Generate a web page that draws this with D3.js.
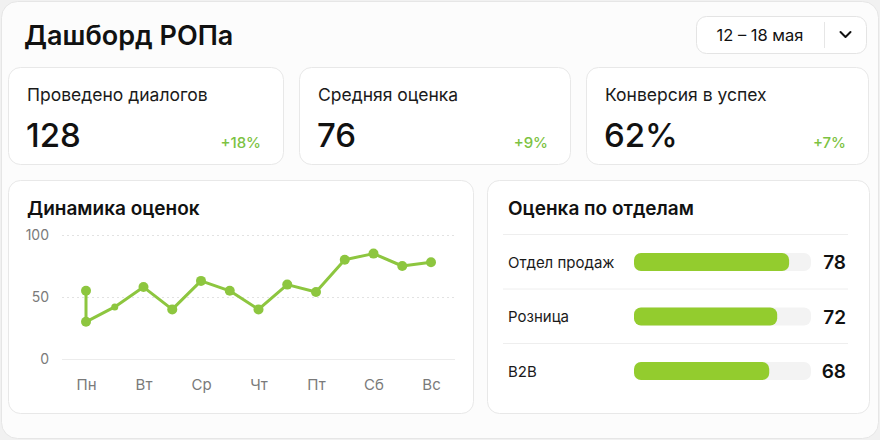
<!DOCTYPE html>
<html>
<head>
<meta charset="utf-8">
<script src="https://cdn.jsdelivr.net/npm/d3@7"></script>
<style>
  html, body { margin: 0; padding: 0; background: #f1f1f1; }
  svg { display: block; font-family: Inter, "Noto Sans", sans-serif; }
</style>
</head>
<body>
<script>
// данные
const title = "Дашборд РОПа";
const period = "12 – 18 мая";

const kpiLabels = ["Проведено диалогов", "Средняя оценка", "Конверсия в успех"];
const kpiValues = ["128", "76", "62%"];
const kpiDeltas = ["+18%", "+9%", "+7%"];

const days = ["Пн", "Вт", "Ср", "Чт", "Пт", "Сб", "Вс"];
const yTicks = [0, 50, 100];
// позиция точки по дням (0 = Пн) и оценка
const pointDay = [0, 0, 0.5, 1, 1.5, 2, 2.5, 3, 3.5, 4, 4.5, 5, 5.5, 6];
const pointScore = [55, 30, 42, 58, 40, 63, 55, 40, 60, 54, 80, 85, 75, 78];

const depts = ["Отдел продаж", "Розница", "B2B"];
const deptScores = [78, 72, 68];

const green = "#8dc63f";
const barGreen = "#93cc2e";

const svg = d3.select("body").append("svg")
    .attr("width", 880)
    .attr("height", 440);

// внешний фон
svg.append("rect")
    .attr("x", 1.5).attr("y", 1.5)
    .attr("width", 877).attr("height", 437)
    .attr("rx", 16)
    .attr("fill", "#fcfcfc")
    .attr("stroke", "#e6e6e6");

svg.append("text")
    .attr("x", 24).attr("y", 45)
    .attr("font-size", 27).attr("font-weight", 600)
    .attr("fill", "#111")
    .text(title);

// выбор периода
const picker = svg.append("g");
picker.append("rect")
    .attr("x", 696.5).attr("y", 16.5)
    .attr("width", 170).attr("height", 37)
    .attr("rx", 10)
    .attr("fill", "#fff").attr("stroke", "#e4e4e4");
picker.append("line")
    .attr("x1", 824.5).attr("x2", 824.5)
    .attr("y1", 22).attr("y2", 48)
    .attr("stroke", "#e6e6e6");
picker.append("text")
    .attr("x", 760).attr("y", 41)
    .attr("text-anchor", "middle")
    .attr("font-size", 16.5).attr("fill", "#111")
    .text(period);
picker.append("path")
    .attr("d", "M840.5,32 L845.5,37 L850.5,32")
    .attr("fill", "none").attr("stroke", "#111")
    .attr("stroke-width", 2).attr("stroke-linecap", "round").attr("stroke-linejoin", "round");

function card(x, y, w, h) {
    return svg.append("rect")
        .attr("x", x + 0.5).attr("y", y + 0.5)
        .attr("width", w).attr("height", h)
        .attr("rx", 12)
        .attr("fill", "#fff")
        .attr("stroke", "#e8e8e8");
}

// KPI карточки
const kpiX = [8, 299, 586];
const kpiW = [275, 271, 282];
kpiLabels.forEach((lab, i) => {
    const x0 = kpiX[i];
    card(x0, 67, kpiW[i], 97);
    svg.append("text")
        .attr("x", x0 + 19).attr("y", 101)
        .attr("font-size", 17.5).attr("fill", "#1a1a1a")
        .text(lab);
    svg.append("text")
        .attr("x", x0 + 18).attr("y", 147)
        .attr("font-size", 33).attr("font-weight", 500).attr("fill", "#111")
        .text(kpiValues[i]);
    svg.append("text")
        .attr("x", x0 + kpiW[i] - 22).attr("y", 148)
        .attr("text-anchor", "end")
        .attr("font-size", 15).attr("font-weight", 500).attr("fill", "#7cc242")
        .text(kpiDeltas[i]);
});

// Динамика оценок
card(8, 180, 465, 233);
svg.append("text")
    .attr("x", 27).attr("y", 215)
    .attr("font-size", 19).attr("font-weight", 600).attr("fill", "#111")
    .text("Динамика оценок");

const x = d3.scaleLinear().domain([0, days.length - 1]).range([86, 431]);
const y = d3.scaleLinear().domain([0, 100]).range([359, 235]);

const grid = svg.append("g");
grid.selectAll("line")
    .data(yTicks)
    .join("line")
    .attr("x1", 62).attr("x2", 455)
    .attr("y1", d => y(d) + 0.5).attr("y2", d => y(d) + 0.5)
    .attr("stroke", d => d === 0 ? "#ececec" : "#e2e2e2")
    .attr("stroke-dasharray", d => d === 0 ? null : "2,3");

const yAxis = svg.append("g")
    .attr("transform", "translate(49,0)")
    .call(d3.axisLeft(y).tickValues(yTicks).tickSize(0).tickPadding(0));
yAxis.select(".domain").remove();
yAxis.selectAll("text")
    .attr("font-size", 14).attr("fill", "#7a7a7a")
    .attr("font-family", "Inter, 'Noto Sans', sans-serif");

const xAxis = svg.append("g")
    .attr("transform", "translate(0,379)")
    .call(d3.axisBottom(x).tickValues(d3.range(days.length)).tickFormat(i => days[i]).tickSize(0).tickPadding(0));
xAxis.select(".domain").remove();
xAxis.selectAll("text")
    .attr("font-size", 15).attr("fill", "#7a7a7a")
    .attr("font-family", "Inter, 'Noto Sans', sans-serif");

const pts = pointDay.map((d, i) => ({ d: d, v: pointScore[i] }));
const line = d3.line().x(p => x(p.d)).y(p => y(p.v));
svg.append("path")
    .datum(pts)
    .attr("d", line)
    .attr("fill", "none")
    .attr("stroke", green)
    .attr("stroke-width", 3)
    .attr("stroke-linejoin", "round");
svg.selectAll("circle.pt")
    .data(pts)
    .join("circle")
    .attr("class", "pt")
    .attr("cx", p => x(p.d))
    .attr("cy", p => y(p.v))
    .attr("r", (p, i) => i === 2 ? 3.5 : 5)
    .attr("fill", green);

// Оценка по отделам
card(487, 180, 382, 233);
svg.append("text")
    .attr("x", 508).attr("y", 215)
    .attr("font-size", 19).attr("font-weight", 600).attr("fill", "#111")
    .text("Оценка по отделам");

const rowY = d3.scalePoint().domain(depts).range([262, 371]);
const bx = d3.scaleLinear().domain([0, 89]).range([0, 177]);

svg.selectAll("line.sep")
    .data(depts)
    .join("line")
    .attr("class", "sep")
    .attr("x1", 503).attr("x2", 848)
    .attr("y1", d => rowY(d) - 27.5).attr("y2", d => rowY(d) - 27.5)
    .attr("stroke", "#eeeeee");

const rows = svg.selectAll("g.row")
    .data(depts)
    .join("g")
    .attr("class", "row")
    .attr("transform", d => `translate(0,${rowY(d)})`);

rows.append("text")
    .attr("x", 508).attr("y", 5.5)
    .attr("font-size", 15).attr("fill", "#1a1a1a")
    .text(d => d);
rows.append("rect")
    .attr("x", 634).attr("y", -9)
    .attr("width", 177).attr("height", 18)
    .attr("rx", 7)
    .attr("fill", "#f3f3f3");
rows.append("rect")
    .attr("x", 634).attr("y", -9)
    .attr("width", (d, i) => bx(deptScores[i]))
    .attr("height", 18)
    .attr("rx", 7)
    .attr("fill", barGreen);
rows.append("text")
    .attr("x", 846).attr("y", 7)
    .attr("text-anchor", "end")
    .attr("font-size", 19).attr("font-weight", 600).attr("fill", "#111")
    .text((d, i) => deptScores[i]);
</script>
</body>
</html>
